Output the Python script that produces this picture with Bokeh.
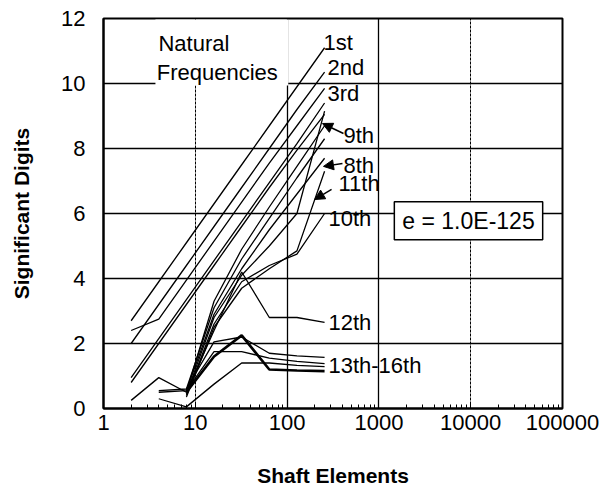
import math
from bokeh.plotting import figure
from bokeh.models import (FixedTicker, Label, Arrow, NormalHead, BoxAnnotation,
                          Grid, Range1d)
from bokeh.embed import file_html
from bokeh.resources import INLINE

NaN = float("nan")

# ---- data ----
shaft_elements = [2, 4, 8, 16, 32, 64, 128, 256]

mode_1 = [2.7, 3.9, 5.1, 6.3, 7.5, 8.7, 9.9, 11.1]
mode_2 = [2.0, 3.2, 4.4, 5.6, 6.8, 8.0, 9.2, 10.35]
mode_3 = [2.4, 2.75, 3.95, 5.15, 6.35, 7.55, 8.7, 9.85]
mode_4 = [0.95, 2.15, 3.35, 4.55, 5.75, 6.95, 8.15, 9.4]
mode_5 = [0.8, 2.0, 3.2, 4.4, 5.6, 6.8, 7.95, 9.05]
mode_6 = [0.25, 0.95, 0.5, 3.3, 4.9, 6.2, 7.45, 8.7]
mode_7 = [NaN, 0.55, 0.6, 3.1, 4.6, 5.85, 7.1, 8.3]
mode_8 = [NaN, 0.5, 0.55, 2.9, 4.3, 5.5, 6.6, 7.7]
mode_9 = [NaN, NaN, 0.45, 2.8, 4.1, 5.0, 6.0, 9.15]
mode_10 = [NaN, NaN, 0.4, 2.6, 3.9, 4.4, 4.75, 6.0]
mode_11 = [NaN, NaN, 0.35, 2.5, 3.7, 4.3, 4.85, 7.3]
mode_12 = [NaN, NaN, 0.5, 2.4, 4.2, 2.8, 2.8, 2.65]
mode_13 = [NaN, NaN, 0.6, 2.05, 2.2, 1.7, 1.62, 1.57]
mode_14 = [NaN, NaN, 0.55, 1.75, 1.75, 1.55, 1.45, 1.38]
mode_15 = [NaN, NaN, 0.5, 1.6, 2.25, 1.2, 1.17, 1.15]
mode_16 = [NaN, 0.3, 0.05, 0.75, 1.4, 1.4, 1.33, 1.29]

modes = [mode_1, mode_2, mode_3, mode_4, mode_5, mode_6, mode_7, mode_8,
         mode_9, mode_10, mode_11, mode_12, mode_13, mode_14, mode_15, mode_16]

x_ticks = [1, 10, 100, 1000, 10000, 100000]
x_tick_labels = ["1", "10", "100", "1000", "10000", "100000"]
y_ticks = [0, 2, 4, 6, 8, 10, 12]

FONT = "Liberation Sans"

p = figure(width=605, height=492, x_axis_type="log",
           x_range=Range1d(1, 100000), y_range=Range1d(0, 12),
           output_backend="svg", toolbar_location=None,
           min_border_left=103, min_border_right=43,
           min_border_top=18, min_border_bottom=84,
           background_fill_color="white", border_fill_color="white")

p.outline_line_color = "black"
p.outline_line_width = 2
p.xgrid.visible = False
p.ygrid.visible = False

# grids
p.add_layout(Grid(dimension=1, ticker=FixedTicker(ticks=[2, 4, 6, 8, 10]),
                  grid_line_color="black", grid_line_width=1.5))
p.add_layout(Grid(dimension=0, ticker=FixedTicker(ticks=[100, 1000]),
                  grid_line_color="black", grid_line_width=1.3))
p.add_layout(Grid(dimension=0, ticker=FixedTicker(ticks=[10, 10000]),
                  grid_line_color="black", grid_line_width=1.0,
                  grid_line_dash="3 1"))

# axes
minor = [m * 10 ** k for k in range(0, 5) for m in range(2, 10)]
p.xaxis.ticker = FixedTicker(ticks=x_ticks, minor_ticks=minor)
p.xaxis.major_label_overrides = {t: l for t, l in zip(x_ticks, x_tick_labels)}
p.yaxis.ticker = FixedTicker(ticks=y_ticks)
for ax in (p.xaxis[0], p.yaxis[0]):
    ax.axis_line_color = "black"
    ax.axis_line_width = 2
    ax.major_tick_out = 0
    ax.major_tick_in = 5
    ax.major_tick_line_color = "black"
    ax.major_label_text_font = FONT
    ax.major_label_text_font_size = "22px"
    ax.major_label_text_color = "black"
    ax.axis_label_text_font = FONT
    ax.axis_label_text_font_style = "bold"
    ax.axis_label_text_font_size = "21px"
    ax.axis_label_text_color = "black"
p.xaxis.minor_tick_in = 4
p.xaxis.minor_tick_out = 0
p.xaxis.minor_tick_line_color = "black"
p.yaxis.minor_tick_line_color = None
p.xaxis.axis_label = "Shaft Elements"
p.yaxis.axis_label = "Significant Digits"
p.xaxis.major_label_standoff = 6
p.xaxis.axis_label_standoff = 31
p.yaxis.major_label_standoff = 18
p.yaxis.axis_label_standoff = 25

# white area behind the "Natural Frequencies" note
p.add_layout(BoxAnnotation(left=3.68, right=103, bottom=9.94, top=11.97,
                           fill_color="white", fill_alpha=1.0,
                           line_alpha=0, level="glyph"))

# series
for i, vals in enumerate(modes):
    lw = 2.6 if i == 14 else 1.3
    p.line(shaft_elements, vals, line_color="black", line_width=lw)

# notes
def lab(text, x, y, size="22px", align="left"):
    p.add_layout(Label(x=x, y=y, text=text, text_font=FONT,
                       text_font_size=size, text_color="black",
                       text_align=align, text_baseline="middle"))

lab("Natural", 3.97, 11.23)
lab("Frequencies", 3.8, 10.34)
lab("1st", 249, 11.26)
lab("2nd", 275, 10.49)
lab("3rd", 275, 9.69)
lab("9th", 411, 8.40)
lab("8th", 411, 7.48)
lab("11th", 363, 6.92)
lab("10th", 282, 5.85)
lab("12th", 282, 2.65)
lab("13th-16th", 282, 1.32)

p.add_layout(Label(x=9464, y=5.78, text="e = 1.0E-125", text_font=FONT,
                   text_font_size="23px", text_color="black",
                   text_align="center", text_baseline="middle",
                   background_fill_color="white", background_fill_alpha=1.0,
                   border_line_color="black", border_line_width=1.5,
                   padding=(8, 8, 6, 6)))

# arrows pointing from labels to curves
for xs, ys, xe, ye in [(411, 8.46, 243, 8.77), (401, 7.54, 249, 7.45),
                       (305, 6.74, 199, 6.43)]:
    p.add_layout(Arrow(end=NormalHead(size=10, fill_color="black",
                                      line_color="black"),
                       x_start=xs, y_start=ys, x_end=xe, y_end=ye,
                       line_color="black", line_width=1.5))

open("out.html", "w").write(file_html(p, INLINE))
